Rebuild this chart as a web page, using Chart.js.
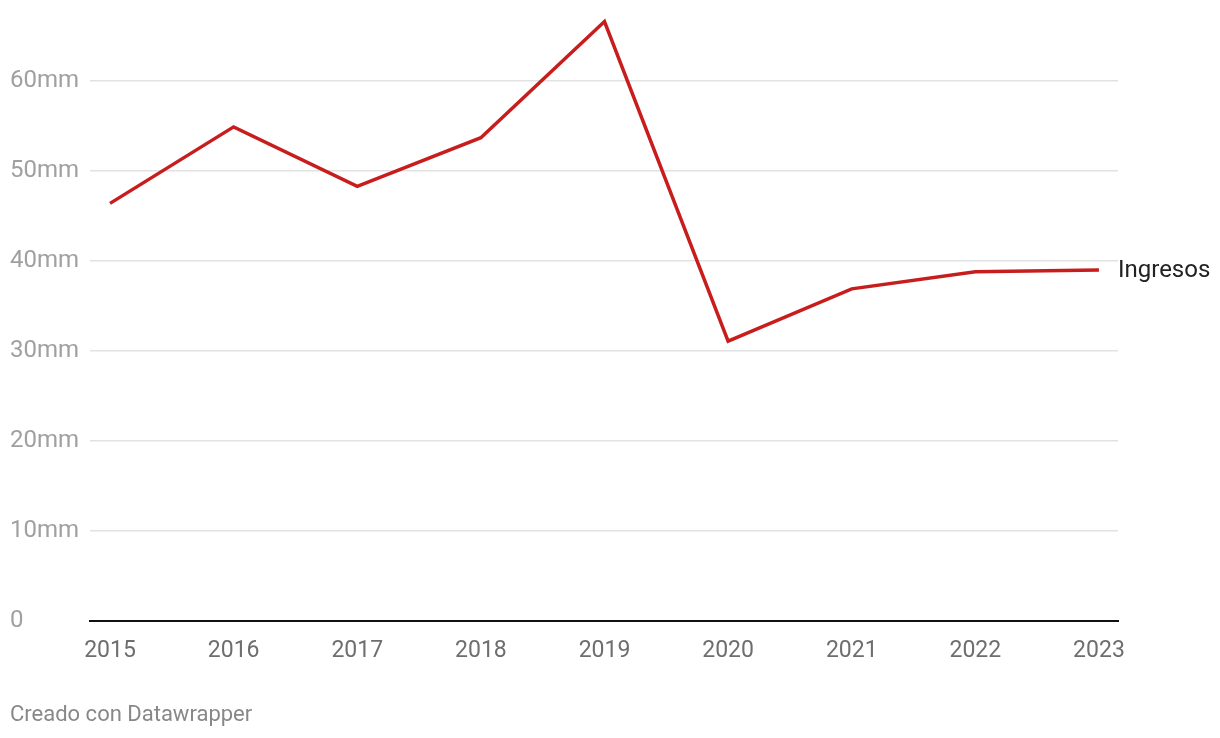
<!DOCTYPE html>
<html>
<head>
<meta charset="utf-8">
<script src="https://cdn.jsdelivr.net/npm/chart.js@4/dist/chart.umd.min.js"></script>
<style>
  html, body { margin: 0; padding: 0; background: #fff; }
  #wrap { position: relative; width: 1220px; height: 738px; }
  #footer { position: absolute; left: 10px; top: 701px; font: 22px Roboto, sans-serif; color: #888; }
</style>
</head>
<body>
<div id="wrap">
  <canvas id="myChart" width="1220" height="738"></canvas>
  <div id="footer">Creado con Datawrapper</div>
</div>
<script>
var years = [2015, 2016, 2017, 2018, 2019, 2020, 2021, 2022, 2023];
var ingresos = [46.4, 54.9, 48.3, 53.7, 66.6, 31.1, 36.9, 38.8, 39.0];
var yTicks = [0, 10, 20, 30, 40, 50, 60];
var seriesName = 'Ingresos';

var endLabel = {
    id: 'endLabel',
    afterDatasetsDraw: function (chart) {
        var meta = chart.getDatasetMeta(0);
        var pt = meta.data[meta.data.length - 1];
        var ctx = chart.ctx;
        ctx.save();
        ctx.font = '24px Roboto';
        ctx.fillStyle = '#222';
        ctx.textAlign = 'left';
        ctx.textBaseline = 'middle';
        ctx.fillText(seriesName, pt.x + 19, pt.y + 1);
        ctx.restore();
    }
};

var ctx = document.getElementById('myChart').getContext('2d');
var myChart = new Chart(ctx, {
    type: 'line',
    data: {
        datasets: [{
            label: seriesName,
            data: years.map(function (y, i) { return { x: y, y: ingresos[i] }; }),
            borderColor: '#c71e1d',
            borderWidth: 3.5,
            pointRadius: 0,
            tension: 0,
            fill: false
        }]
    },
    options: {
        responsive: false,
        animation: false,
        layout: { padding: { left: 10, right: 102, top: 15, bottom: 0 } },
        plugins: { legend: { display: false }, tooltip: { enabled: false } },
        scales: {
            x: {
                type: 'linear',
                min: 2014.838,
                max: 2023.154,
                afterBuildTicks: function (axis) {
                    axis.ticks = years.map(function (y) { return { value: y }; });
                },
                afterFit: function (axis) { axis.height = 117; },
                grid: { display: false, drawTicks: false },
                border: { display: true, color: '#111', width: 2 },
                ticks: {
                    padding: 16,
                    color: '#6e6e6e',
                    font: { family: 'Roboto', size: 23 },
                    maxRotation: 0,
                    callback: function (v) { return String(v); }
                }
            },
            y: {
                min: 0,
                max: 67.33,
                afterBuildTicks: function (axis) {
                    axis.ticks = yTicks.map(function (v) { return { value: v }; });
                },
                afterFit: function (axis) { axis.width = 80; },
                grid: {
                    drawTicks: false,
                    color: function (c) { return c.tick && c.tick.value === 0 ? 'rgba(0,0,0,0)' : '#e2e2e2'; },
                    lineWidth: 1.5
                },
                border: { display: false },
                ticks: {
                    crossAlign: 'far',
                    padding: 0,
                    color: '#a0a0a0',
                    font: { family: 'Roboto', size: 24 },
                    callback: function (v) { return v === 0 ? '0' : v + 'mm'; }
                }
            }
        }
    },
    plugins: [endLabel]
});
</script>
</body>
</html>
